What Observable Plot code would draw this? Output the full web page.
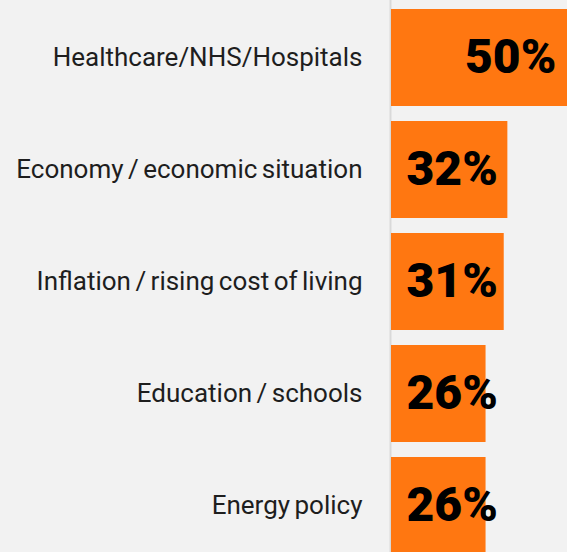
<!DOCTYPE html>
<html>
<head>
<meta charset="utf-8">
<script src="https://cdn.jsdelivr.net/npm/d3@7"></script>
<script src="https://cdn.jsdelivr.net/npm/@observablehq/plot@0.6"></script>
<style>
  html, body { margin: 0; padding: 0; background: #f2f2f2; overflow: hidden; }
  .cat-labels text { word-spacing: -2px; }
</style>
</head>
<body>
<div id="chart"></div>
<script>
const categories = [
  "Healthcare/NHS/Hospitals",
  "Economy / economic situation",
  "Inflation / rising cost of living",
  "Education / schools",
  "Energy policy"
];
const values = [50, 32, 31, 26, 26];
const valueLabels = ["50%", "32%", "31%", "26%", "26%"];

const data = categories.map((c, i) => ({category: c, value: values[i], label: valueLabels[i]}));

const chart = Plot.plot({
  width: 567,
  height: 552,
  marginLeft: 391,
  marginRight: 0,
  marginTop: 0,
  marginBottom: 0,
  style: {background: "#f2f2f2", fontFamily: "Roboto, 'Noto Sans', sans-serif", overflow: "hidden"},
  x: {domain: [0, 48.4], range: [391, 567], axis: null},
  y: {domain: categories, range: [9, 554.44], paddingInner: 0.13, paddingOuter: 0, axis: null},
  marks: [
    Plot.ruleX([0], {stroke: "#d9d9d9", strokeWidth: 2, dx: -1}),
    Plot.barX(data, {y: "category", x: "value", fill: "#ff7711"}),
    Plot.text(data, {
      y: "category", x: 0, text: "category", textAnchor: "end", dx: -29,
      fontSize: 26, fill: "#1e1e1e", letterSpacing: "-0.6px", className: "cat-labels"
    }),
    Plot.text(data.filter(d => d.value < 40), {
      y: "category", x: 0, text: "label", textAnchor: "start", dx: 15,
      fontSize: 48, fontWeight: 900, fill: "#000000", letterSpacing: "-0.5px"
    }),
    Plot.text(data.filter(d => d.value >= 40), {
      y: "category", x: "value", text: "label", textAnchor: "end", dx: -17,
      fontSize: 48, fontWeight: 900, fill: "#000000", letterSpacing: "-0.5px"
    })
  ]
});
document.getElementById("chart").appendChild(chart);
</script>
</body>
</html>
